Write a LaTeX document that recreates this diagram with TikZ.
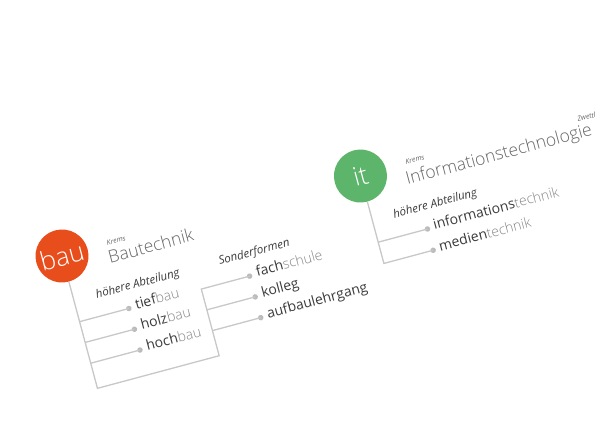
\documentclass[tikz,border=0pt]{standalone}
\usepackage{fontspec}
\setmainfont{Open Sans}
\newfontfamily\osl{Open Sans Light}
\definecolor{lnc}{HTML}{C8C8C8}
\definecolor{dotc}{HTML}{BBBBBB}
\definecolor{dk}{HTML}{3C3C3C}
\definecolor{lt}{HTML}{888888}
\definecolor{ttl}{HTML}{666666}
\definecolor{bauc}{HTML}{E84E1C}
\definecolor{itc}{HTML}{5DB56C}
\tikzset{
  ln/.style={draw=lnc, line width=1.3pt},
  dotn/.style={circle, fill=dotc, inner sep=0pt, minimum size=5.5pt},
  badge/.style={circle, inner sep=0pt, minimum size=53pt, text=white, font=\osl\fontsize{26}{26}\selectfont},
  town/.style={inner sep=0pt, text=ttl, font=\itshape\fontsize{7}{8}\selectfont},
  ttlt/.style={inner sep=0pt, text=ttl, font=\osl\fontsize{17.5}{20}\selectfont},
  grp/.style={inner sep=0pt, text=dk, font=\itshape\fontsize{11.5}{13}\selectfont},
  item/.style={inner sep=0pt, text=dk, font=\fontsize{14}{16}\selectfont, anchor=mid west},
}
\newcommand{\lgt}[1]{{\osl\color{lt}#1}}
\begin{document}
\begin{tikzpicture}[x=1pt,y=1pt]
\useasboundingbox (0,0) rectangle (600,440);
\fill[white] (0,0) rectangle (600,440);
\begin{scope}[shift={(62,184)}, rotate=15, transform shape]
% bau
\node[badge, fill=bauc] (bau) at (0,0) {bau};
\node[town, anchor=base west] (krems1) at (46.5,-1.5) {Krems};
\node[ttlt, anchor=base west] (bt) at (44.5,-19.5) {Bautechnik};
\node[grp, anchor=base west] (ha1) at (22.5,-50) {höhere Abteilung};
\node[dotn] (d1) at (51,-68) {};
\node[dotn] (d2) at (51,-89.5) {};
\node[dotn] (d3) at (51,-111) {};
\node[item] (t1) at (58,-68) {tief\lgt{bau}};
\node[item] (t2) at (58,-89.5) {holz\lgt{bau}};
\node[item] (t3) at (58,-111) {hoch\lgt{bau}};
\coordinate (j1) at (0,-68);
\coordinate (j2) at (0,-89.5);
\coordinate (j3) at (0,-111);
\coordinate (jb) at (0,-137);
\coordinate (kb) at (126,-137);
\coordinate (k1) at (126,-68);
\coordinate (k2) at (126,-89.5);
\coordinate (k3) at (126,-111);
\node[grp, anchor=base west] (sf) at (150,-49.5) {Sonderformen};
\node[dotn] (d4) at (176,-68) {};
\node[dotn] (d5) at (176,-89.5) {};
\node[dotn] (d6) at (176,-111) {};
\node[item] (t4) at (183,-68) {fach\lgt{schule}};
\node[item] (t5) at (183,-89.5) {kolleg};
\node[item] (t6) at (183,-111) {aufbaulehrgang};
\draw[ln] (bau.south) -- (jb) -- (kb) -- (k1) -- (d4.center);
\draw[ln] (j1) -- (d1.center);
\draw[ln] (j2) -- (d2.center);
\draw[ln] (j3) -- (d3.center);
\draw[ln] (k2) -- (d5.center);
\draw[ln] (k3) -- (d6.center);
% it
\node[badge, fill=itc] (it) at (309,0) {it};
\node[town, anchor=base west] (krems2) at (356,-0.5) {Krems};
\node[ttlt, anchor=base west] (itt) at (352,-20.5) {Informationstechnologie};
\node[town, anchor=base east] (zw) at (552,-4) {Zwettl};
\node[grp, anchor=base west] (ha2) at (330.5,-49.6) {höhere Abteilung};
\node[dotn] (d7) at (360,-68.5) {};
\node[dotn] (d8) at (360,-90.5) {};
\node[item] (t7) at (366.5,-68.5) {informations\lgt{technik}};
\node[item] (t8) at (366.5,-90.5) {medien\lgt{technik}};
\coordinate (i1) at (309,-68.5);
\coordinate (i2) at (309,-90.5);
\draw[ln] (it.south) -- (i2) -- (d8.center);
\draw[ln] (i1) -- (d7.center);
\end{scope}
\end{tikzpicture}
\end{document}
